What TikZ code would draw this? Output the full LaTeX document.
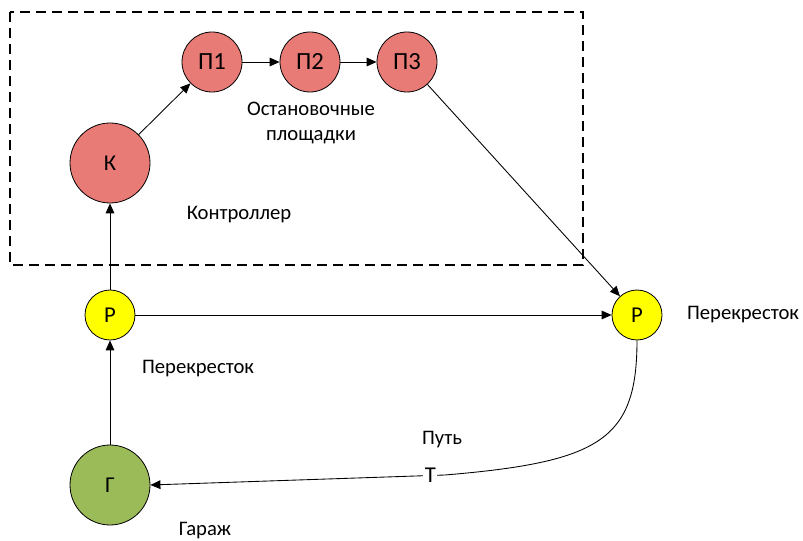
\documentclass[tikz,border=0pt]{standalone}
\usepackage{fontspec}
\setmainfont{Carlito}
\usetikzlibrary{arrows.meta}
\definecolor{stopred}{HTML}{E97B76}
\definecolor{crossyel}{HTML}{FFFF00}
\definecolor{garagegr}{HTML}{9BBB59}

\begin{document}
\begin{tikzpicture}[
  x=0.75pt, y=-0.75pt,
  font=\fontsize{15.5}{19}\selectfont,
  stop/.style={circle, draw=black, line width=0.6pt, fill=stopred, minimum size=45pt,
               inner sep=0pt, font=\fontsize{18.5}{20}\selectfont},
  ctrl/.style={stop, minimum size=60pt, font=\fontsize{17}{20}\selectfont},
  cross/.style={ctrl, fill=crossyel, minimum size=37.5pt},
  garage/.style={ctrl, fill=garagegr, minimum size=60pt},
  lbl/.style={align=center},
  arr/.style={-{Triangle[length=7.5pt, width=6.5pt]}, draw=black, line width=0.65pt},
]
\useasboundingbox (0,0) rectangle (803,541);

% controller zone
\draw[line width=1pt, dash pattern=on 7.5pt off 4.5pt] (10,12) rectangle (583,265);

\node[stop]   (p1) at (212,62)  {П1};
\node[stop]   (p2) at (310,62)  {П2};
\node[stop]   (p3) at (407,62)  {П3};
\node[ctrl]   (k)  at (110,163) {К};
\node[cross]  (rl) at (110,315) {Р};
\node[cross]  (rr) at (637,315) {Р};
\node[garage] (g)  at (110,485) {Г};

\node[lbl] (stops)  at (311,123) {Остановочные\\площадки};
\node[lbl] (ctrlt)  at (239,215) {Контроллер};
\node[lbl] (crossl) at (198,369) {Перекресток};
\node[lbl] (crossr) at (743,315) {Перекресток};
\node[lbl] (path)   at (442,440) {Путь};
\node[lbl] (gart)   at (205,531) {Гараж};

\draw[arr] (k) -- (p1);
\draw[arr] (p1) -- (p2);
\draw[arr] (p2) -- (p3);
\draw[arr] (p3) -- (rr);
\draw[arr] (rl) -- (rr);
\draw[arr] (rl) -- (k);
\draw[arr] (g) -- (rl);

% path back to the garage
\coordinate (bend) at (445,475);
\draw[arr] (rr.south) .. controls (637,440) and (600,462) .. (bend)
  -- node[pos=0.05, fill=white, inner sep=1pt, font=\fontsize{17}{20}\selectfont] (tmark) {Т} (g.east);
\end{tikzpicture}
\end{document}
